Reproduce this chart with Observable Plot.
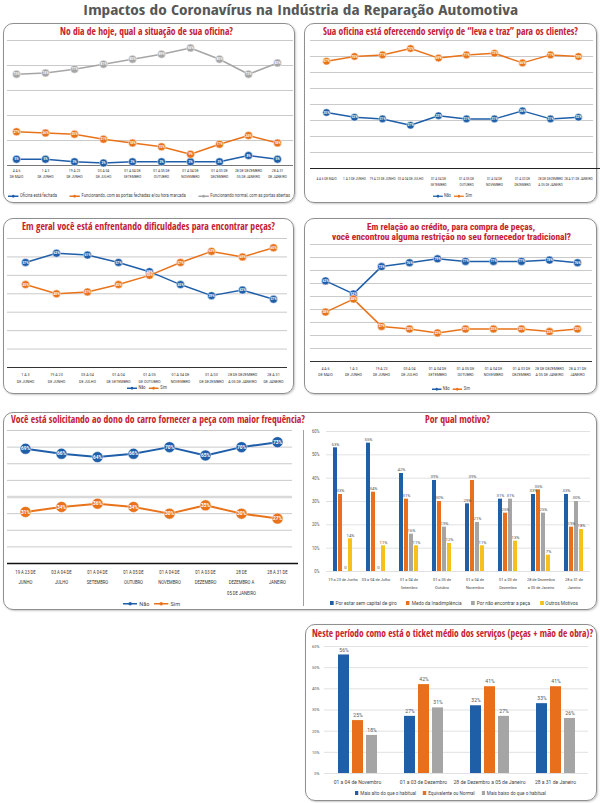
<!DOCTYPE html>
<html><head><meta charset="utf-8">
<script src="https://cdn.jsdelivr.net/npm/d3@7"></script>
<script src="https://cdn.jsdelivr.net/npm/@observablehq/plot@0.6"></script>
<style>
body{margin:0;background:#fff;}
#root{position:relative;width:600px;height:803px;overflow:hidden;background:#fff;}
.box{position:absolute;border:1px solid #8f8f8f;border-radius:10px;box-sizing:border-box;box-shadow:1px 1px 2px rgba(0,0,0,.22);}
</style></head><body><div id="root"></div>
<script>
// ---------------- DATA ----------------
const BLUE = "#1f5ea8", ORANGE = "#e8731a", GRAY = "#a6a6a6";
const BBLUE = "#1f5fa8", BORANGE = "#e8701c", BGRAY = "#a5a5a5", BYELLOW = "#f6c11c";

const mainTitle = "Impactos do Coronavírus na Indústria da Reparação Automotiva";

// Panel 1
const p1Title = "No dia de hoje, qual a situação de sua oficina?";
const p1Periods = ["4 A 6\nDE MAIO","1 A 3\nDE JUNHO","19 A 23\nDE JUNHO","03 A 04\nDE JULHO","01 A 04 DE\nSETEMBRO","01 A 05 DE\nOUTUBRO","01 A 04 DE\nNOVEMBRO","01 A 03 DE\nDEZEMBRO","28 DE DEZEMBRO\n05 DE JANEIRO","28 A 31\nDE JANEIRO"];
const p1Names = ["Oficina está fechada","Funcionando, com as portas fechadas e/ou hora marcada","Funcionando normal, com as portas abertas"];
const p1Fechada = [5,5,3,2,3,3,3,3,8,5];
const p1PortasFechadas = [27,26,25,21,18,15,9,17,24,18];
const p1Normal = [73,74,77,81,85,89,94,85,73,82];

// Panel 2
const p2Title = "Sua oficina está oferecendo serviço de “leva e traz” para os clientes?";
const p2Periods = ["4 A 6 DE MAIO","1 A 3 DE JUNHO","19 A 23 DE JUNHO","03 A 04 DE JULHO","01 A 04 DE\nSETEMBRO","01 A 05 DE\nOUTUBRO","01 A 04 DE\nNOVEMBRO","01 A 03 DE\nDEZEMBRO","28 DE DEZEMBRO\nA 05 DE JANEIRO","28 A 31 DE JANEIRO"];
const p2Nao = [35,32,31,27,33,31,31,36,31,32];
const p2Sim = [67,70,71,75,69,71,72,66,71,70];

// Panel 3
const p3Title = "Em geral você está enfrentando dificuldades para encontrar peças?";
const p3Periods = ["1 A 3\nDE JUNHO","19 A 23\nDE JUNHO","03 A 04\nDE JULHO","01 A 04\nDE SETEMBRO","01 A 05\nDE OUTUBRO","01 A 04 DE\nNOVEMBRO","01 A 03\nDE DEZEMBRO","28 DE DEZEMBRO\nA 05 DE JANEIRO","28 A 31\nDE JANEIRO"];
const p3Nao = [57,62,61,57,52,45,39,42,37];
const p3Sim = [45,40,41,45,50,57,63,60,65];

// Panel 4
const p4Title1 = "Em relação ao crédito, para compra de peças,";
const p4Title2 = "você encontrou alguma restrição no seu fornecedor tradicional?";
const p4Periods = ["4 A 6\nDE MAIO","1 A 3\nDE JUNHO","19 A 23\nDE JUNHO","03 A 04\nDE JULHO","01 A 04 DE\nSETEMBRO","01 A 05 DE\nOUTUBRO","01 A 04 DE\nNOVEMBRO","01 A 03 DE\nDEZEMBRO","28 DE DEZEMBRO\nA 05 DE JANEIRO","28 A 31 DE\nJANEIRO"];
const p4Nao = [62,52,73,76,79,77,77,77,78,76];
const p4Sim = [38,48,27,25,22,25,25,25,23,25];

// Panel 5
const p5Title = "Você está solicitando ao dono do carro fornecer a peça com maior frequência?";
const p5Periods = ["19 A 23 DE\nJUNHO","03 A 04 DE\nJULHO","01 A 04 DE\nSETEMBRO","01 A 05 DE\nOUTUBRO","01 A 04 DE\nNOVEMBRO","01 A 03 DE\nDEZEMBRO","28 DE\nDEZEMBRO A\n05 DE JANEIRO","28 A 31 DE\nJANEIRO"];
const p5Nao = [69,66,64,66,70,65,70,73];
const p5Sim = [31,34,36,34,30,35,30,27];

// Panel 6
const p6Title = "Por qual motivo?";
const p6Groups = ["19 a 23 de Junho","03 a 04 de Julho","01 a 04 de\nSetembro","01 a 05 de\nOutubro","01 a 04 de\nNovembro","01 a 03 de\nDezembro","28 de Dezembro\na 05 de Janeiro","28 a 31 de\nJaneiro"];
const p6Names = ["Por estar sem capital de giro","Medo da Inadimplência","Por não encontrar a peça","Outros Motivos"];
const p6Capital = [53,55,42,39,29,31,33,33];
const p6Medo = [33,34,31,30,39,25,35,19];
const p6Peca = [0,0,16,19,21,31,25,30];
const p6Outros = [14,11,11,12,11,13,7,18];

// Panel 7
const p7Title = "Neste período como está o ticket médio dos serviços (peças + mão de obra)?";
const p7Groups = ["01 a 04 de Novembro","01 a 03 de Dezembro","28 de Dezembro a 05 de Janeiro","28 a 31 de Janeiro"];
const p7Names = ["Mais alto do que o habitual","Equivalente ou Normal","Mais baixo do que o habitual"];
const p7Alto = [56,27,32,33];
const p7Normal = [25,42,41,41];
const p7Baixo = [18,31,27,26];

const pctTicks = (max, step) => d3.range(0, max + 1, step);

// ---------------- HELPERS ----------------
const root = document.getElementById("root");
const FONT = 'Roboto, "Open Sans", sans-serif';
const OPEN = {family: '"Open Sans Condensed", "Open Sans", sans-serif', k: 0.888};
const ROBO = {family: '"Roboto Condensed", Roboto, sans-serif', k: 0.842};

function fitX(el, w) {
  const cw = el.getBoundingClientRect().width;
  if (cw > 0) el.style.transform = `scaleX(${w / cw})`;
}
function text(str, o) {
  const f = o.font || OPEN;
  const d = document.createElement("div");
  d.textContent = str;
  Object.assign(d.style, {position: "absolute", left: o.x + "px", top: (o.base - f.k * o.fs) + "px",
    fontSize: o.fs + "px", lineHeight: "1", whiteSpace: "nowrap", fontWeight: o.weight || "700",
    color: o.color || "#c4202f", fontFamily: f.family, fontStretch: "condensed", transformOrigin: "0 0"});
  root.appendChild(d);
  fitX(d, o.w);
  return d;
}
function box(x, y, w, h) {
  const d = document.createElement("div");
  d.className = "box";
  Object.assign(d.style, {left: x + "px", top: y + "px", width: w + "px", height: h + "px"});
  root.appendChild(d);
}
function place(svg, x, y) {
  const d = document.createElement("div");
  Object.assign(d.style, {position: "absolute", left: x + "px", top: y + "px"});
  d.appendChild(svg);
  root.appendChild(d);
}
function squeeze(svg, sx) {
  svg.querySelectorAll('g[aria-label*="tick label"] text').forEach(t => {
    const tr = t.getAttribute("transform");
    if (tr) t.setAttribute("transform", tr + ` scale(${sx},1)`);
    else {
      const x = t.getAttribute("x") || 0, y = t.getAttribute("y") || 0;
      t.removeAttribute("x"); t.removeAttribute("y");
      t.setAttribute("transform", `translate(${x},${y}) scale(${sx},1)`);
    }
  });
}
function legend(items, o) {
  const d = document.createElement("div");
  Object.assign(d.style, {position: "absolute", left: o.x + "px", top: (o.yc - o.fs * 0.6) + "px",
    fontSize: o.fs + "px", lineHeight: "1.2", whiteSpace: "nowrap", color: "#444", fontFamily: FONT,
    transformOrigin: "0 0", display: "flex", alignItems: "center", gap: o.gap + "px"});
  for (const it of items) {
    const s = document.createElement("span");
    Object.assign(s.style, {display: "inline-flex", alignItems: "center", gap: (o.fs * 0.35) + "px"});
    const f = o.fs;
    const sw = o.kind === "line"
      ? `<svg width="${f * 2.6}" height="${f}" style="display:block"><line x1="0" x2="${f * 2.6}" y1="${f / 2}" y2="${f / 2}" stroke="${it.color}" stroke-width="${f * 0.28}"/><circle cx="${f * 1.3}" cy="${f / 2}" r="${f * 0.32}" fill="${it.color}"/></svg>`
      : `<svg width="${f * 0.8}" height="${f * 0.8}" style="display:block"><rect width="${f * 0.8}" height="${f * 0.8}" fill="${it.color}"/></svg>`;
    s.innerHTML = sw + `<span>${it.label}</span>`;
    d.appendChild(s);
  }
  root.appendChild(d);
  fitX(d, o.w);
}

function lineChart(o) {
  const data = o.series.flatMap(s => s.values.map((v, i) => ({cat: o.cats[i], v, s: s.name})));
  const marks = [
    Plot.ruleY(o.grid.filter(t => t > 0), {stroke: "#bdbdbd", strokeWidth: 0.8}),
  ];
  if (o.thick != null) marks.push(Plot.ruleY([o.thick], {stroke: "#d9d9d9", strokeWidth: 2.5}));
  marks.push(
    Plot.ruleY([0], {stroke: o.base, strokeWidth: o.baseW || 1, insetRight: -(o.ext || 0)}),
    Plot.line(data, {x: "cat", y: "v", z: "s", stroke: "s", strokeWidth: o.lw || 1.5}),
    Plot.dot(data, {x: "cat", y: "v", r: o.r, fill: "s", stroke: "white", strokeWidth: 0.5}),
    Plot.text(data, {x: "cat", y: "v", text: d => d.v + "%", fill: "white", fontSize: o.vfs, fontWeight: "bold"}),
    Plot.axisX({tickSize: 0, tickPadding: o.tp, fontSize: o.fs, lineHeight: o.lh, fill: "#333", label: null})
  );
  const svg = Plot.plot({
    width: o.width, height: o.height,
    marginTop: o.mt, marginBottom: o.mb, marginLeft: o.ml, marginRight: o.mr,
    style: {background: "transparent", fontFamily: FONT, overflow: "visible"},
    x: {type: "point", domain: o.cats, range: o.xr, padding: 0},
    y: {domain: o.ydom, axis: null},
    color: {domain: o.series.map(s => s.name), range: o.series.map(s => s.color)},
    marks
  });
  squeeze(svg, o.sx);
  place(svg, o.x, o.y);
}

function barChart(o) {
  const data = o.series.flatMap(s => s.values.map((v, i) => ({g: o.groups[i], v, s: s.name})));
  const svg = Plot.plot({
    width: o.width, height: o.height,
    marginTop: o.mt, marginBottom: o.mb, marginLeft: o.ml, marginRight: o.mr,
    style: {background: "transparent", fontFamily: FONT, overflow: "visible"},
    fx: {domain: o.groups, padding: 0},
    x: {domain: o.series.map(s => s.name), paddingInner: o.pi, paddingOuter: o.po, axis: null},
    y: {domain: o.ydom},
    color: {domain: o.series.map(s => s.name), range: o.series.map(s => s.color)},
    marks: [
      Plot.gridY({ticks: o.yticks, stroke: "#d9d9d9", strokeOpacity: 1, strokeWidth: 0.8}),
      Plot.barY(data, {fx: "g", x: "s", y: "v", fill: "s"}),
      Plot.text(data, {fx: "g", x: "s", y: "v", text: d => d.v === 0 ? "0" : d.v + "%", dy: -o.tdy, fontSize: o.vfs, fill: "#555"}),
      Plot.axisY({ticks: o.yticks, tickFormat: d => d + "%", tickSize: 0, tickPadding: o.ytp, fontSize: o.yfs, fill: "#555", label: null}),
      Plot.axisFx({anchor: "bottom", tickSize: 0, tickPadding: o.tp, fontSize: o.fs, lineHeight: o.lh, fill: "#444", label: null})
    ]
  });
  squeeze(svg, o.sx);
  place(svg, o.x, o.y);
}

// ---------------- LAYOUT ----------------
box(3, 23, 292, 180);
box(304, 23, 293, 180);
box(3, 218, 291, 176);
box(304, 218, 293, 176);
box(3, 412, 594, 198);
box(305, 624, 292, 177);
{
  const dv = document.createElement("div");
  Object.assign(dv.style, {position: "absolute", left: "303px", top: "430px", width: "1px", height: "176px", background: "#a0a0a0"});
  root.appendChild(dv);
}

text(mainTitle, {x: 83, base: 15.6, fs: 14, w: 435, color: "#575757"});
text(p1Title, {x: 60, base: 35.5, fs: 9.8, w: 173});
text(p2Title, {x: 323, base: 35.5, fs: 9.8, w: 255});
text(p3Title, {x: 22, base: 230.5, fs: 9.8, w: 253});
text(p4Title1, {x: 367, base: 230.2, fs: 8.8, w: 168, font: ROBO});
text(p4Title2, {x: 332, base: 240.7, fs: 8.8, w: 239, font: ROBO});
text(p5Title, {x: 11, base: 424, fs: 9.8, w: 294});
text(p6Title, {x: 425, base: 424, fs: 9.8, w: 65});
text(p7Title, {x: 312, base: 637.3, fs: 9.8, w: 281});

// Panel 1
lineChart({x: 3, y: 35, width: 292, height: 150, mt: 5, mb: 20, ml: 4, mr: 2, xr: [12, 274],
  cats: p1Periods, ydom: [0, 100], grid: pctTicks(100, 20),
  series: [{name: p1Names[0], values: p1Fechada, color: BLUE}, {name: p1Names[1], values: p1PortasFechadas, color: ORANGE}, {name: p1Names[2], values: p1Normal, color: GRAY}],
  r: 4, lw: 1.5, vfs: 3.2, fs: 4, lh: 1.4, tp: 3, sx: 0.85, base: "#777"});
legend([{label: p1Names[0], color: BLUE}, {label: p1Names[1], color: ORANGE}, {label: p1Names[2], color: GRAY}],
  {x: 8, yc: 196, w: 282, fs: 4.5, gap: 14, kind: "line"});

// Panel 2
lineChart({x: 303, y: 35, width: 297, height: 150, mt: 5, mb: 17, ml: 7, mr: 7, xr: [19, 279],
  cats: p2Periods, ydom: [0, 80], grid: pctTicks(80, 10),
  series: [{name: "Não", values: p2Nao, color: BLUE}, {name: "Sim", values: p2Sim, color: ORANGE}],
  r: 3.8, lw: 1.5, vfs: 3.2, fs: 4, lh: 1.6, tp: 7, sx: 0.78, base: "#222", ext: 7});
legend([{label: "Não", color: BLUE}, {label: "Sim", color: ORANGE}], {x: 433, yc: 196, w: 39, fs: 4.5, gap: 4, kind: "line"});

// Panel 3
lineChart({x: 3, y: 230, width: 292, height: 152, mt: 8, mb: 15, ml: 4, mr: 8, xr: [18, 273],
  cats: p3Periods, ydom: [0, 70], grid: pctTicks(70, 10),
  series: [{name: "Não", values: p3Nao, color: BLUE}, {name: "Sim", values: p3Sim, color: ORANGE}],
  r: 4, lw: 1.5, vfs: 3.3, fs: 4.3, lh: 1.65, tp: 3, sx: 0.85, base: "#333"});
legend([{label: "Não", color: BLUE}, {label: "Sim", color: ORANGE}], {x: 127, yc: 388, w: 40, fs: 4.5, gap: 4, kind: "line"});

// Panel 4
lineChart({x: 303, y: 240, width: 297, height: 145, mt: 4, mb: 24, ml: 7, mr: 8, xr: [19, 277],
  cats: p4Periods, ydom: [0, 90], grid: pctTicks(90, 10),
  series: [{name: "Não", values: p4Nao, color: BLUE}, {name: "Sim", values: p4Sim, color: ORANGE}],
  r: 4, lw: 1.5, vfs: 3.3, fs: 4, lh: 1.35, tp: 5, sx: 0.9, base: "#333"});
legend([{label: "Não", color: BLUE}, {label: "Sim", color: ORANGE}], {x: 432, yc: 389, w: 38, fs: 4.5, gap: 4, kind: "line"});

// Panel 5
lineChart({x: 3, y: 425, width: 300, height: 175, mt: 5, mb: 37, ml: 4, mr: 11, xr: [19, 277],
  cats: p5Periods, ydom: [0, 80], grid: pctTicks(80, 10), thick: 40,
  series: [{name: "Não", values: p5Nao, color: BLUE}, {name: "Sim", values: p5Sim, color: ORANGE}],
  r: 5.5, lw: 2, vfs: 4.8, fs: 5.6, lh: 1.875, tp: 3, sx: 0.75, base: "#111", baseW: 1.3, ext: 6});
legend([{label: "Não", color: BLUE}, {label: "Sim", color: ORANGE}], {x: 123, yc: 604, w: 57, fs: 5.5, gap: 5, kind: "line"});

// Panel 6
barChart({x: 305, y: 425, width: 292, height: 172, mt: 6, mb: 26, ml: 20, mr: 7,
  groups: p6Groups, ydom: [0, 60], yticks: pctTicks(60, 10),
  series: [{name: p6Names[0], values: p6Capital, color: BBLUE}, {name: p6Names[1], values: p6Medo, color: BORANGE}, {name: p6Names[2], values: p6Peca, color: BGRAY}, {name: p6Names[3], values: p6Outros, color: BYELLOW}],
  pi: 0.18, po: 1.1, vfs: 4.3, tdy: 3.5, yfs: 4.5, ytp: 7, fs: 4.3, lh: 1.8, tp: 4, sx: 0.9});
legend(p6Names.map((n, i) => ({label: n, color: [BBLUE, BORANGE, BGRAY, BYELLOW][i]})), {x: 330, yc: 603, w: 248, fs: 5, gap: 10, kind: "square"});

// Panel 7
barChart({x: 305, y: 640, width: 292, height: 146, mt: 6, mb: 13, ml: 18, mr: 9,
  groups: p7Groups, ydom: [0, 60], yticks: pctTicks(60, 10),
  series: [{name: p7Names[0], values: p7Alto, color: BBLUE}, {name: p7Names[1], values: p7Normal, color: BORANGE}, {name: p7Names[2], values: p7Baixo, color: BGRAY}],
  pi: 0.22, po: 0.82, vfs: 5, tdy: 5, yfs: 4.2, ytp: 5, fs: 5.3, lh: 1.2, tp: 6, sx: 0.95});
legend(p7Names.map((n, i) => ({label: n, color: [BBLUE, BORANGE, BGRAY][i]})), {x: 355, yc: 793, w: 191, fs: 5.5, gap: 8, kind: "square"});
</script></body></html>
